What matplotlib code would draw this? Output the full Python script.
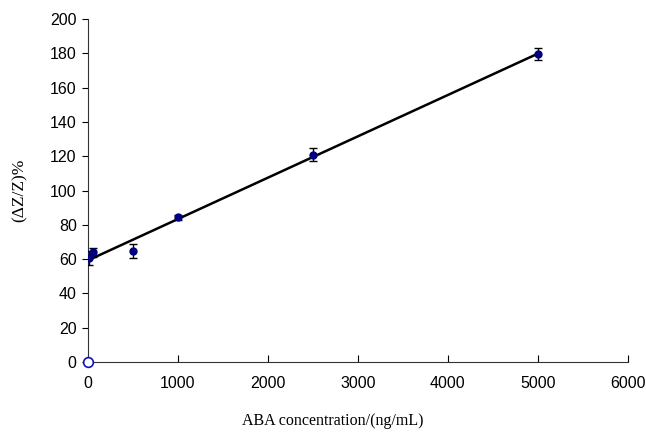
import numpy as np
import matplotlib.pyplot as plt

# ABA calibration data
conc = [10, 60, 500, 1000, 2500, 5000]  # ng/mL
response = [60.5, 64.0, 64.7, 84.5, 121.0, 179.5]  # (dZ/Z)%
err = [4.0, 2.5, 4.0, 1.5, 4.0, 3.5]
blank_x = [0]
blank_y = [0]

fig = plt.figure(figsize=(6.46, 4.33), dpi=100)
ax = fig.add_axes([0.136, 0.164, 0.836, 0.792])

# linear trend line over the measured points
k, b = np.polyfit(conc, response, 1)
xs = np.array([0, max(conc)])
ax.plot(xs, k * xs + b, color='black', lw=1.8, zorder=2)

ax.errorbar(conc, response, yerr=err, fmt='o', color='#000080', ms=5,
            ecolor='black', elinewidth=1, capsize=3, capthick=1, zorder=3)
ax.plot(blank_x, blank_y, 'o', mfc='white', mec='#1010c0', ms=7, mew=1.2,
        clip_on=False, zorder=4)

ax.set_xlim(0, 6000)
ax.set_ylim(0, 200)
ax.set_xticks(np.arange(0, 6001, 1000))
ax.set_yticks(np.arange(0, 201, 20))
for s in ['top', 'right']:
    ax.spines[s].set_visible(False)
for s in ['left', 'bottom']:
    ax.spines[s].set_color('#333333')
ax.tick_params(axis='y', direction='out', length=4, labelsize=11.5, pad=4)
ax.tick_params(axis='x', direction='in', length=5, labelsize=11.5, pad=10)
for lab in ax.get_xticklabels() + ax.get_yticklabels():
    lab.set_family('Liberation Sans')

ax.set_xlabel('ABA concentration/(ng/mL)', family='Liberation Serif', fontsize=11.5)
ax.set_ylabel('(ΔZ/Z)%', family='Liberation Serif', fontsize=12.5)
ax.xaxis.set_label_coords(0.454, -0.15)
ax.yaxis.set_label_coords(-0.112, 0.5)

fig.savefig('out.png', dpi=100)
